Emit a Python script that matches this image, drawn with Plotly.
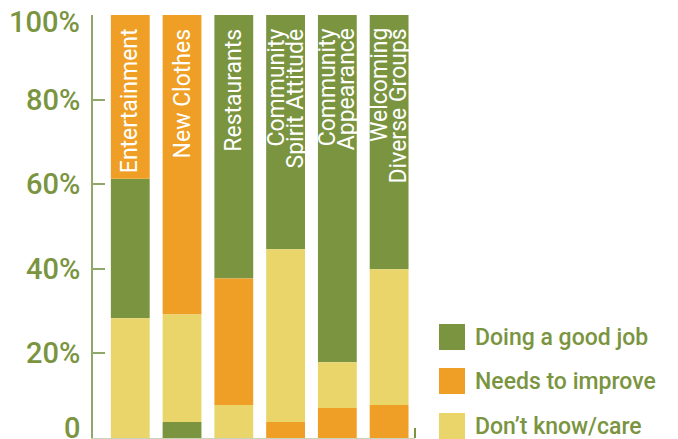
import plotly.graph_objects as go

categories = ["Entertainment", "New Clothes", "Restaurants", "Community Spirit Attitude",
              "Community Appearance", "Welcoming Diverse Groups"]
label_lines = [["Entertainment"], ["New Clothes"], ["Restaurants"],
               ["Community", "Spirit Attitude"], ["Community", "Appearance"],
               ["Welcoming", "Diverse Groups"]]

series = ["Doing a good job", "Needs to improve", "Don\u2019t know/care"]
good = [33.0, 3.8, 62.3, 55.4, 82.1, 60.1]
improve = [38.7, 70.8, 29.9, 3.8, 7.1, 7.8]
dontknow = [28.3, 25.4, 7.8, 40.8, 10.8, 32.1]
# stacking order bottom -> top, per category
stack_order = [
    ["dk", "good", "improve"],
    ["good", "dk", "improve"],
    ["dk", "improve", "good"],
    ["improve", "dk", "good"],
    ["improve", "dk", "good"],
    ["improve", "dk", "good"],
]
tick_vals = [0, 20, 40, 60, 80, 100]
tick_text = ["0", "20%", "40%", "60%", "80%", "100%"]

colors = {"good": "#7A9440", "improve": "#EF9F25", "dk": "#E9D569"}
values = {"good": good, "improve": improve, "dk": dontknow}
keys = ["good", "improve", "dk"]
TXT = "#7A9440"
FONT = "Roboto"

bases = {k: [0] * len(categories) for k in keys}
for i, order in enumerate(stack_order):
    acc = 0
    for k in order:
        bases[k][i] = acc
        acc += values[k][i]

fig = go.Figure()
for k, name in zip(keys, series):
    fig.add_trace(go.Bar(x=categories, y=values[k], base=bases[k], name=name,
                         marker=dict(color=colors[k], line=dict(width=0)),
                         width=0.75, showlegend=False, hoverinfo="skip"))

annotations = []
for cat, lines in zip(categories, label_lines):
    n = len(lines)
    for j, line in enumerate(lines):
        shift = (j - (n - 1) / 2) * 19
        annotations.append(dict(x=cat, y=97.3, xref="x", yref="y", text=line,
                                textangle=-90, showarrow=False, xanchor="center",
                                yanchor="top", xshift=shift,
                                font=dict(family=FONT, size=23, color="white")))

# y tick labels (kept inside the page at the two ends)
for v, t in zip(tick_vals, tick_text):
    ys = 10 if v == tick_vals[0] else (-7 if v == tick_vals[-1] else 0)
    annotations.append(dict(x=0, xref="paper", y=v, yref="y", text=t, showarrow=False,
                            xanchor="right", yanchor="middle", xshift=-11, yshift=ys,
                            font=dict(family=FONT, size=29, color=TXT, weight=500)))

# legend drawn manually (plot area is 322 x 423 px)
shapes = []
leg_y = [337, 381, 426]
for k, name, yc in zip(keys, series, leg_y):
    shapes.append(dict(type="rect", xref="paper", yref="paper",
                       x0=(439 - 93) / 322, x1=(465 - 93) / 322,
                       y0=(438 - yc - 13) / 423, y1=(438 - yc + 13) / 423,
                       fillcolor=colors[k], line=dict(width=0)))
    annotations.append(dict(x=(473 - 93) / 322, y=(438 - yc) / 423, xref="paper", yref="paper",
                            text=name, showarrow=False, xanchor="left", yanchor="middle",
                            font=dict(family=FONT, size=23, color=TXT, weight=500)))
# small end mark of the x axis
shapes.append(dict(type="line", xref="paper", yref="paper", x0=1, x1=1,
                   y0=0, y1=10 / 423, line=dict(color="#7A9440", width=2)))

fig.update_layout(
    width=678, height=439,
    margin=dict(l=85, r=271, t=7, b=9, autoexpand=False),
    paper_bgcolor="white", plot_bgcolor="white",
    barmode="overlay",
    showlegend=False,
    annotations=annotations, shapes=shapes,
    xaxis=dict(range=[-0.72, 5.5], showticklabels=False, showgrid=False, zeroline=False,
               showline=True, linecolor="#C9D4B5", linewidth=2, ticks="", automargin=False),
    yaxis=dict(range=[0, 100], tickvals=tick_vals, showticklabels=False, automargin=False,
               showgrid=False, zeroline=False, showline=True, linecolor="#8FA86A",
               linewidth=1.5, ticks="inside", ticklen=12, tickwidth=1.5, tickcolor="#8FA86A"),
)

fig.write_html("out.html")
